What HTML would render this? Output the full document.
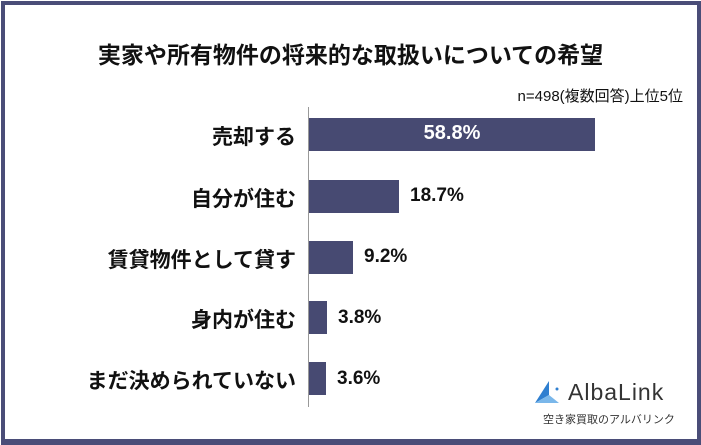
<!DOCTYPE html><html><head><meta charset="utf-8"><style>
body{margin:0;width:701px;height:444px;background:#fff;position:relative;overflow:hidden;font-family:"Liberation Sans","Noto Sans CJK JP",sans-serif;color:#111}
.frame{position:absolute;left:1px;top:1px;width:692px;height:434px;border:4px solid #4a4d78;border-right-width:5px;border-bottom-width:6px}
.t{position:absolute;white-space:nowrap}
.bar{position:absolute;left:309px;background:#474a72;height:33px}
.lab{position:absolute;right:405px;font-size:21px;text-align:right;white-space:nowrap;font-weight:bold}
.v{position:absolute;font-size:19px;font-weight:bold}
</style></head><body>
<div class="frame"></div>
<div class="t" style="left:0;width:701px;text-align:center;top:36px;font-size:23px;font-weight:bold">実家や所有物件の将来的な取扱いについての希望</div>
<div class="t" style="right:18px;top:85px;font-size:15px">n=498(複数回答)上位5位</div>
<div style="position:absolute;left:308px;top:107px;width:1px;height:300px;background:#999"></div>
<div class="bar" style="top:118px;width:286px"></div>
<div class="t" style="left:309px;width:286px;text-align:center;top:122px;font-size:20px;color:#fff;font-weight:bold">58.8%</div>
<div class="bar" style="top:180px;width:90px"></div>
<div class="bar" style="top:241px;width:44px"></div>
<div class="bar" style="top:301px;width:18px"></div>
<div class="bar" style="top:362px;width:17px"></div>
<div class="v" style="left:410px;top:185px">18.7%</div>
<div class="v" style="left:364px;top:246px">9.2%</div>
<div class="v" style="left:338px;top:307px">3.8%</div>
<div class="v" style="left:337px;top:368px">3.6%</div>
<div class="lab" style="top:121px">売却する</div>
<div class="lab" style="top:183px">自分が住む</div>
<div class="lab" style="top:244px">賃貸物件として貸す</div>
<div class="lab" style="top:304px">身内が住む</div>
<div class="lab" style="top:365px">まだ決められていない</div>
<svg style="position:absolute;left:535px;top:381px" width="28" height="24"><polygon points="14,0 0,22 14,14" fill="#2f7fd0"/><polygon points="14,14 0,22 24,22" fill="#7ab7ea"/><circle cx="22" cy="8" r="1.5" fill="#2f7fd0"/></svg>
<div class="t" style="left:568px;top:379px;font-size:23px;color:#333;letter-spacing:1px">AlbaLink</div>
<div class="t" style="left:543px;top:411px;font-size:11px;color:#333">空き家買取のアルバリンク</div>
</body></html>
